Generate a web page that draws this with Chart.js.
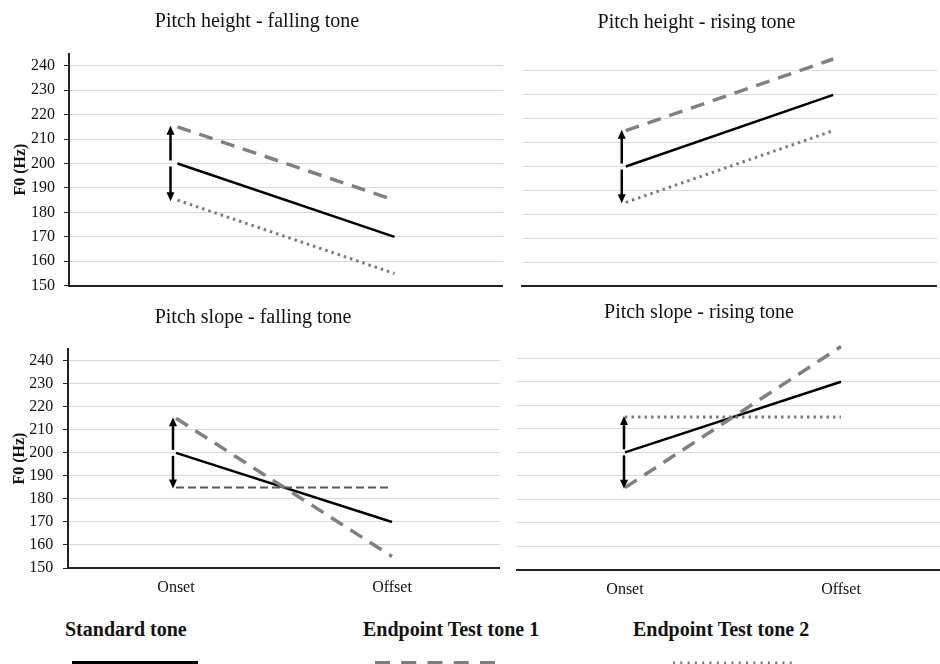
<!DOCTYPE html>
<html><head><meta charset="utf-8">
<script src="https://cdn.jsdelivr.net/npm/chart.js@4.4.1/dist/chart.umd.min.js"></script>
<style>
html,body{margin:0;padding:0;background:#fff;}
#wrap{position:relative;width:940px;height:664px;overflow:hidden;background:#fff;}
#wrap canvas{position:absolute;}
.lg{position:absolute;font:bold 20px 'Liberation Serif','Times New Roman',serif;line-height:20px;color:#111;white-space:nowrap;}
</style></head><body>
<div id="wrap">
<canvas id="cA" width="492" height="300" style="left:11px;top:0px"></canvas>
<canvas id="cB" width="481" height="300" style="left:456px;top:0px"></canvas>
<canvas id="cC" width="494" height="310" style="left:6px;top:296px"></canvas>
<canvas id="cD" width="500" height="310" style="left:449px;top:296px"></canvas>
<div class="lg" style="left:65px;top:619px">Standard tone</div>
<div class="lg" style="left:363px;top:619px">Endpoint Test tone 1</div>
<div class="lg" style="left:633px;top:619px">Endpoint Test tone 2</div>
<canvas id="cL" width="940" height="14" style="left:0px;top:650px"></canvas>
</div>
<script>
// ---- data ----
const categories = ['Onset', 'Offset'];
const yTickValues = [150, 160, 170, 180, 190, 200, 210, 220, 230, 240];
const seriesNames = ['Standard tone', 'Endpoint Test tone 1', 'Endpoint Test tone 2'];
const panelTitles = ['Pitch height - falling tone', 'Pitch height - rising tone', 'Pitch slope - falling tone', 'Pitch slope - rising tone'];
const yAxisTitle = 'F0 (Hz)';

const heightFallingStandard = [200, 170];
const heightFallingTest1 = [215, 185];
const heightFallingTest2 = [185, 155];

const heightRisingStandard = [200, 230];
const heightRisingTest1 = [215, 245];
const heightRisingTest2 = [185, 215];

const slopeFallingStandard = [200, 170];
const slopeFallingTest1 = [215, 155];
const slopeFallingTest2 = [185, 185];

const slopeRisingStandard = [200, 230];
const slopeRisingTest1 = [185, 245];
const slopeRisingTest2 = [215, 215];

// ---- styles ----
const SERIF = "'Liberation Serif','Times New Roman',serif";
const styleStandard = { borderColor: '#000', borderWidth: 2.5, borderDash: [] };
const styleTest1 = { borderColor: '#808080', borderWidth: 3.5, borderDash: [14, 9] };
const styleDotted = { borderColor: '#7a7a7a', borderWidth: 3, borderDash: [2.5, 4] };
const styleShortDash = { borderColor: '#5a5a5a', borderWidth: 2, borderDash: [8, 4] };

const arrowPlugin = {
  id: 'rangeArrow',
  afterDatasetsDraw(chart, args, o) {
    const { ctx, scales: { x, y } } = chart;
    const px = x.getPixelForValue(0) + o.dx;
    const yStd = y.getPixelForValue(o.std);
    const yHi = y.getPixelForValue(o.hi);
    const yLo = y.getPixelForValue(o.lo);
    const head = 8, hw = 4, gap = 3;
    ctx.save();
    ctx.strokeStyle = '#000'; ctx.fillStyle = '#000'; ctx.lineWidth = 2.5;
    ctx.beginPath(); ctx.moveTo(px, yStd - gap); ctx.lineTo(px, yHi + head - 1); ctx.stroke();
    ctx.beginPath(); ctx.moveTo(px, yHi - 1); ctx.lineTo(px - hw, yHi + head); ctx.lineTo(px + hw, yHi + head); ctx.closePath(); ctx.fill();
    ctx.beginPath(); ctx.moveTo(px, yStd + gap); ctx.lineTo(px, yLo - head + 1); ctx.stroke();
    ctx.beginPath(); ctx.moveTo(px, yLo + 1); ctx.lineTo(px - hw, yLo - head); ctx.lineTo(px + hw, yLo - head); ctx.closePath(); ctx.fill();
    ctx.restore();
  }
};

function ds(label, data, st) {
  return Object.assign({ label, data, pointRadius: 0, fill: false, tension: 0, clip: false, borderCapStyle: 'butt' }, st);
}

function makeChart(id, c) {
  const onsets = [c.t1[0], c.t2[0]];
  return new Chart(document.getElementById(id), {
    type: 'line',
    data: {
      labels: categories,
      datasets: [
        ds(seriesNames[2], c.t2, c.t2Style),
        ds(seriesNames[1], c.t1, styleTest1),
        ds(seriesNames[0], c.std, styleStandard)
      ]
    },
    options: {
      responsive: false, animation: false, events: [],
      layout: { padding: 0 },
      plugins: {
        legend: { display: false }, tooltip: { enabled: false },
        title: { display: true, text: c.title, color: '#111',
          font: { family: SERIF, size: 20, weight: 'normal', lineHeight: 1.2 },
          padding: { top: c.tTop, bottom: c.tBot } },
        rangeArrow: { std: c.std[0], hi: Math.max(...onsets), lo: Math.min(...onsets), dx: c.adx }
      },
      scales: {
        x: {
          type: 'category', offset: true,
          grid: { display: false, drawTicks: false },
          border: { display: true, color: '#222', width: 2 },
          ticks: { display: c.showX, color: '#111', font: { family: SERIF, size: 16 }, padding: 10 },
          afterFit: s => { s.height = c.xH; }
        },
        y: {
          min: 150, max: 245,
          afterBuildTicks: s => { s.ticks = yTickValues.map(v => ({ value: v })); },
          grid: { color: '#d9d9d9', lineWidth: 1, drawTicks: c.showY, tickLength: 5, tickColor: '#222' },
          border: { display: c.showY, color: '#222', width: 2 },
          ticks: { display: c.showY, color: '#111', font: { family: SERIF, size: 16 }, padding: c.yPad || 9 },
          title: { display: c.showY, text: yAxisTitle, color: '#111',
            font: { family: SERIF, size: 16, weight: 'bold', lineHeight: 1.2 }, padding: { top: c.yTitlePad || 0, bottom: 0 } },
          afterFit: s => { s.width = c.yW; s.paddingTop = 0; s.paddingBottom = 0; }
        }
      }
    },
    plugins: [arrowPlugin]
  });
}

makeChart('cA', { title: panelTitles[0], std: heightFallingStandard, t1: heightFallingTest1, t2: heightFallingTest2, t2Style: styleDotted,
  tTop: 10, tBot: 19.5, xH: 14.3, yW: 58, showX: false, showY: true, yPad: 9, yTitlePad: 0, adx: -7 });
makeChart('cB', { title: panelTitles[1], std: heightRisingStandard, t1: heightRisingTest1, t2: heightRisingTest2, t2Style: styleDotted,
  tTop: 11, tBot: 24, xH: 14, yW: 66, showX: false, showY: false, adx: -4 });
makeChart('cC', { title: panelTitles[2], std: slopeFallingStandard, t1: slopeFallingTest1, t2: slopeFallingTest2, t2Style: styleShortDash,
  tTop: 10, tBot: 19.2, xH: 38, yW: 62, showX: true, showY: true, yPad: 9.7, yTitlePad: 4, adx: -3 });
makeChart('cD', { title: panelTitles[3], std: slopeRisingStandard, t1: slopeRisingTest1, t2: slopeRisingTest2, t2Style: styleDotted,
  tTop: 5, tBot: 21.5, xH: 36, yW: 68, showX: true, showY: false, adx: -1 });

// legend line samples
(function () {
  const ctx = document.getElementById('cL').getContext('2d');
  const yy = 13;
  function seg(x1, x2, col, w, dash) {
    ctx.save(); ctx.strokeStyle = col; ctx.lineWidth = w; ctx.setLineDash(dash);
    ctx.beginPath(); ctx.moveTo(x1, yy); ctx.lineTo(x2, yy); ctx.stroke(); ctx.restore();
  }
  seg(72, 198, '#000', 4, []);
  seg(375, 495, '#7f7f7f', 4, [15, 11.25]);
  seg(673, 797, '#777', 3, [2, 5.3]);
})();
</script>
</body></html>
